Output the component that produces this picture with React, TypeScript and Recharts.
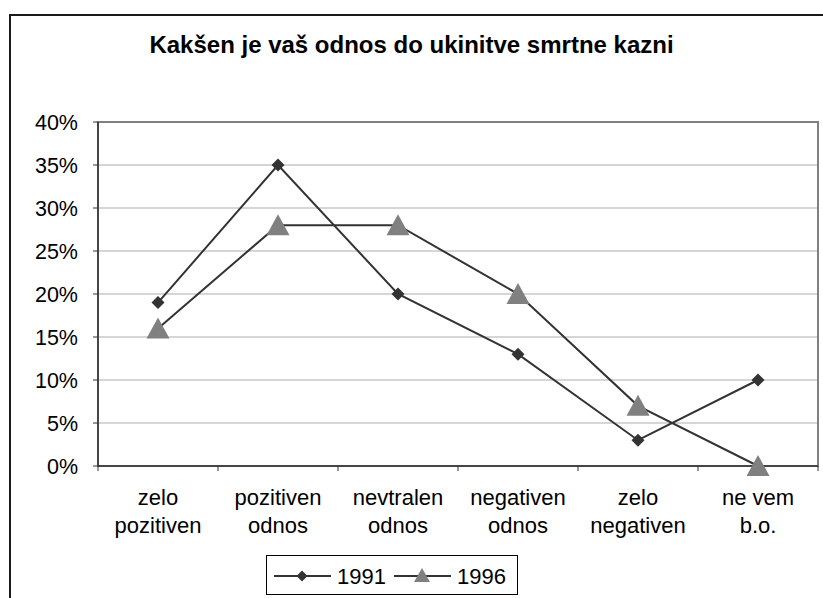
import {
  LineChart,
  Line,
  XAxis,
  YAxis,
  CartesianGrid,
  ReferenceArea,
  Legend,
} from "recharts";

const categories = [
  ["zelo", "pozitiven"],
  ["pozitiven", "odnos"],
  ["nevtralen", "odnos"],
  ["negativen", "odnos"],
  ["zelo", "negativen"],
  ["ne vem", "b.o."],
];
const values1991 = [19, 35, 20, 13, 3, 10];
const values1996 = [16, 28, 28, 20, 7, 0];
const yTicks = [0, 5, 10, 15, 20, 25, 30, 35, 40];

const data = categories.map((c, i) => ({
  name: c.join(" "),
  y1991: values1991[i],
  y1996: values1996[i],
}));

const W = 823;
const H = 598;
const LEFT = 98;
const RIGHT = 5;
const BAND = (W - LEFT - RIGHT) / categories.length;
const FONT = '"Liberation Sans", Arial, sans-serif';

const Diamond = ({ cx, cy, s = 6.5 }: any) => (
  <path
    d={`M${cx},${cy - s}L${cx + s},${cy}L${cx},${cy + s}L${cx - s},${cy}Z`}
    fill="#333"
  />
);

const Triangle = ({ cx, cy }: any) => (
  <path
    d={`M${cx},${cy - 11}L${cx + 11.5},${cy + 10}L${cx - 11.5},${cy + 10}Z`}
    fill="#808080"
  />
);

const CategoryTick = ({ x, y, payload, index }: any) => {
  const lines = categories[index] || [payload.value];
  return (
    <g>
      <line x1={x - BAND / 2} y1={y} x2={x - BAND / 2} y2={y + 5} stroke="#333" />
      {index === categories.length - 1 && (
        <line x1={x + BAND / 2} y1={y} x2={x + BAND / 2} y2={y + 5} stroke="#333" />
      )}
      {lines.map((t: string, i: number) => (
        <text
          key={i}
          x={x}
          y={y + 39 + i * 28}
          textAnchor="middle"
          fontSize={22}
          fontFamily={FONT}
          fill="#000"
        >
          {t}
        </text>
      ))}
    </g>
  );
};

const legendContent = () => (
  <div
    style={{
      width: 252,
      height: 40,
      border: "1px solid #000",
      background: "#fff",
      boxSizing: "border-box",
    }}
  >
    <svg width={252} height={40}>
      <line x1={7} y1={20} x2={64} y2={20} stroke="#333" strokeWidth={2} />
      <Diamond cx={35} cy={20} s={5.5} />
      <text x={70} y={28} fontSize={22} fontFamily={FONT}>1991</text>
      <line x1={127} y1={20} x2={184} y2={20} stroke="#333" strokeWidth={2} />
      <path d="M155,12L163,26L147,26Z" fill="#808080" />
      <text x={190} y={28} fontSize={22} fontFamily={FONT}>1996</text>
    </svg>
  </div>
);

export default function App() {
  return (
    <div
      style={{
        position: "fixed",
        top: 0,
        left: 0,
        width: W,
        height: H,
        overflow: "hidden",
        background: "#fff",
      }}
    >
      <div
        style={{
          position: "absolute",
          left: 9,
          top: 14,
          width: 1000,
          height: 1000,
          border: "2px solid #1a1a1a",
        }}
      />
      <div
        style={{
          position: "absolute",
          top: 31,
          left: 0,
          width: W,
          textAlign: "center",
          fontFamily: FONT,
          fontWeight: "bold",
          fontSize: 24,
        }}
      >
        Kakšen je vaš odnos do ukinitve smrtne kazni
      </div>
      <div style={{ position: "absolute", top: 0, left: 0 }}>
        <LineChart
          width={W}
          height={H}
          data={data}
          margin={{ top: 122, right: RIGHT, bottom: 0, left: 0 }}
        >
          <CartesianGrid horizontal vertical={false} stroke="#c8c8c8" strokeWidth={1.5} />
          <ReferenceArea y1={0} y2={40} fill="none" stroke="#808080" strokeWidth={2} />
          <XAxis
            dataKey="name"
            scale="band"
            height={132}
            interval={0}
            tickSize={0}
            tickMargin={0}
            tickLine={false}
            axisLine={{ stroke: "#333", strokeWidth: 1.5 }}
            tick={<CategoryTick />}
          />
          <YAxis
            width={LEFT}
            domain={[0, 40]}
            ticks={yTicks}
            interval={0}
            tickFormatter={(v) => `${v}%`}
            tickSize={5}
            tickMargin={15}
            axisLine={{ stroke: "#333", strokeWidth: 1.5 }}
            tickLine={{ stroke: "#333" }}
            tick={{ fill: "#000", fontSize: 21.5, fontFamily: FONT }}
          />
          <Line
            dataKey="y1991"
            name="1991"
            stroke="#333"
            strokeWidth={2}
            dot={(p: any) => <Diamond key={p.index} cx={p.cx} cy={p.cy} />}
            isAnimationActive={false}
          />
          <Line
            dataKey="y1996"
            name="1996"
            stroke="#333"
            strokeWidth={2}
            dot={(p: any) => <Triangle key={p.index} cx={p.cx} cy={p.cy} />}
            isAnimationActive={false}
          />
          <Legend
            layout="horizontal"
            verticalAlign="middle"
            align="center"
            content={legendContent}
            wrapperStyle={{ top: 555, left: 266, width: 252, height: 40 }}
          />
        </LineChart>
      </div>
    </div>
  );
}
